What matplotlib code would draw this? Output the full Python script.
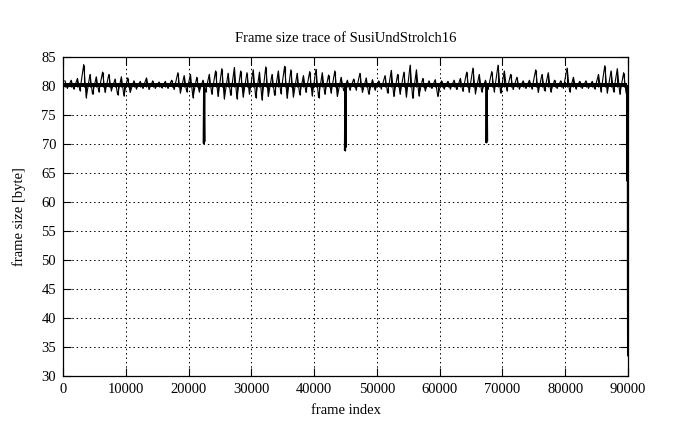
import numpy as np
import matplotlib.pyplot as plt

# upper / lower envelope of the trace, one pair per 1000 frames
bin_size = 1000
hi = [80.9, 81.0, 81.3, 83.7, 82.0, 81.6, 82.4, 82.0, 81.2, 81.6,
      81.4, 80.9, 80.8, 81.4, 80.9, 80.7, 80.8, 81.0, 82.3, 81.8,
      82.0, 81.5, 81.0, 82.0, 82.6, 83.0, 82.2, 83.2, 82.6, 82.3,
      82.8, 82.4, 83.3, 82.0, 82.6, 83.4, 82.8, 82.2, 81.8, 82.5,
      82.9, 82.3, 81.9, 82.6, 81.5, 81.0, 81.2, 82.2, 81.4, 81.1,
      80.9, 81.8, 82.7, 82.0, 82.4, 83.6, 82.8, 81.3, 80.9, 81.1,
      80.9, 80.8, 81.0, 81.3, 82.4, 83.1, 82.0, 81.0, 82.5, 83.6,
      82.6, 82.0, 81.5, 80.9, 81.0, 82.8, 82.0, 82.3, 81.0, 80.9,
      83.1, 81.5, 80.8, 80.9, 80.8, 82.0, 83.5, 82.6, 83.0, 82.3]
lo = [79.6, 79.5, 79.2, 78.0, 78.6, 79.0, 78.9, 79.2, 78.5, 78.3,
      78.9, 79.5, 79.6, 79.4, 79.6, 79.7, 79.6, 79.4, 78.8, 79.0,
      78.0, 79.0, 79.0, 78.6, 78.2, 77.8, 78.4, 77.8, 78.1, 78.6,
      78.0, 77.6, 78.2, 78.4, 78.7, 77.9, 78.1, 78.5, 78.9, 78.3,
      78.0, 78.6, 78.8, 78.2, 79.2, 79.3, 79.3, 78.9, 78.6, 79.3,
      79.5, 78.8, 78.2, 78.6, 78.1, 77.9, 78.3, 79.2, 79.6, 78.2,
      79.5, 79.5, 79.4, 79.1, 78.9, 78.7, 79.0, 79.4, 79.0, 78.8,
      79.2, 79.4, 79.5, 79.6, 79.5, 78.9, 79.2, 79.0, 79.6, 79.6,
      79.0, 79.5, 79.6, 79.6, 79.5, 79.0, 78.8, 79.0, 78.6, 78.8]
# dense core of the trace (where nearly every frame falls)
core_lo, core_hi = 79.85, 80.6

# the three deep dips and the drop at the very end
dip_x = [22350, 22420, 22480, 22550, 22620,
         44850, 44920, 44980, 45050, 45120,
         67350, 67420, 67480, 67550, 67620]
dip_y = [70.2, 80.0, 70.1, 80.2, 70.5,
         69.0, 80.1, 68.8, 80.0, 69.5,
         70.3, 80.0, 70.2, 80.1, 70.6]
end_x = [89820, 89850, 89880, 89910, 89930, 89950, 89965, 89980, 89995]
end_y = [63.8, 80.1, 63.6, 80.0, 45.5, 33.6, 45.3, 33.8, 33.5]

plt.rcParams['font.family'] = ['Liberation Serif', 'DejaVu Serif']

fig = plt.figure(figsize=(6.95, 4.29), dpi=100)
ax = fig.add_axes([63 / 695, 1 - 376 / 429, 565 / 695, 319 / 429])

# zigzag through the envelope: high point early in each bin, low point late
bins = np.arange(len(hi))
zx = np.column_stack([bins * bin_size + 300, bins * bin_size + 700]).ravel()
zy = np.column_stack([hi, lo]).ravel()
ax.fill_between([0, len(hi) * bin_size - 200], core_lo, core_hi, color="black", lw=0)
ax.plot(zx, zy, color="black", lw=0.8)
ax.vlines(bins * bin_size + 300, core_lo, hi, color="black", lw=0.8)
ax.vlines(bins * bin_size + 700, lo, core_hi, color="black", lw=0.8)
for k in range(0, len(dip_x), 5):
    ax.plot(dip_x[k:k + 5], dip_y[k:k + 5], color="black", lw=1.0)
ax.plot(end_x, end_y, color="black", lw=1.0)

ax.set_xlim(0, 90000)
ax.set_ylim(30, 85)
ax.set_xticks(range(0, 90001, 10000))
ax.set_yticks(range(30, 86, 5))
ax.grid(True, color="black", linestyle=(0, (1.5, 3)), lw=0.7)
ax.set_axisbelow(False)
ax.tick_params(direction="in", length=6, top=True, right=True, labelsize=10.5, pad=5)
for s in ax.spines.values():
    s.set_linewidth(0.9)

ax.set_title("Frame size trace of SusiUndStrolch16", fontsize=10.5, pad=11)
ax.set_xlabel("frame index", fontsize=10.5, labelpad=6)
ax.set_ylabel("frame size [byte]", fontsize=10.5, labelpad=11)

fig.savefig("out.png", dpi=100)
